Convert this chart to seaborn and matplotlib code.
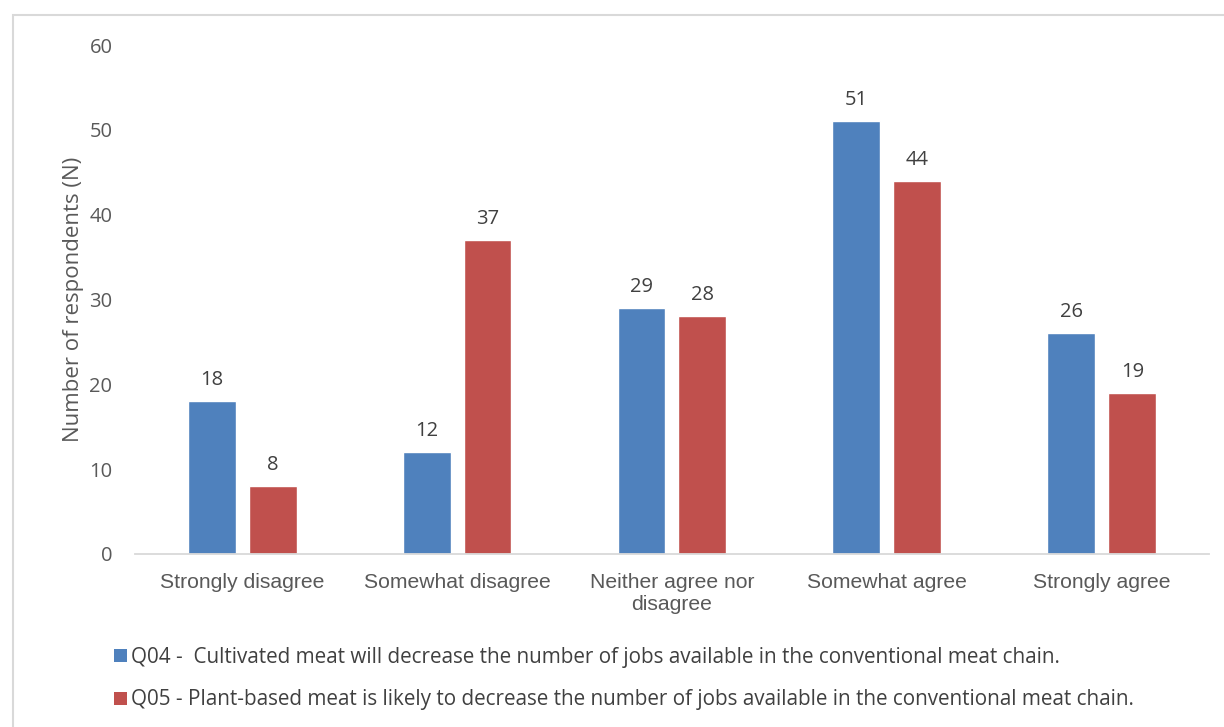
import numpy as np
import pandas as pd
import matplotlib
matplotlib.use("Agg")
import matplotlib.pyplot as plt
from matplotlib.patches import Rectangle, Patch
import seaborn as sns

categories = ["Strongly disagree", "Somewhat disagree", "Neither agree nor\ndisagree",
              "Somewhat agree", "Strongly agree"]
q04_values = [18, 12, 29, 51, 26]
q05_values = [8, 37, 28, 44, 19]
series_names = ["Q04 -  Cultivated meat will decrease the number of jobs available in the conventional meat chain.",
                "Q05 - Plant-based meat is likely to decrease the number of jobs available in the conventional meat chain."]
colors = ["#4F81BD", "#C0504D"]

df = pd.DataFrame({
    "category": categories * 2,
    "value": q04_values + q05_values,
    "series": [series_names[0]] * 5 + [series_names[1]] * 5,
})

sns.set_style("white")
plt.rcParams["font.family"] = ["Open Sans", "DejaVu Sans"]

fig = plt.figure(figsize=(12.24, 7.27), dpi=100)
ax = fig.add_axes([0.110, 0.238, 0.878, 0.700])

sns.barplot(data=df, x="category", y="value", hue="series", palette=colors,
            width=0.567, gap=0.214, ax=ax, legend=False, saturation=1)

for cont in ax.containers:
    ax.bar_label(cont, padding=8, fontsize=14.5, color="#404040")

ax.set_ylim(0, 60)
ax.set_yticks(range(0, 61, 10))
ax.set_xlim(-0.5, 4.5)
ax.set_xlabel("")
ax.set_ylabel("Number of respondents (N)", fontsize=16, color="#595959", labelpad=4)
ax.tick_params(axis="y", length=0, pad=16, labelsize=14.5, labelcolor="#595959")
ax.tick_params(axis="x", length=0, pad=14, labelcolor="#595959")
for lab in ax.get_xticklabels():
    lab.set_fontfamily("Liberation Sans")
    lab.set_fontsize(15.2)
    lab.set_linespacing(1.2)

for s in ["top", "right", "left"]:
    ax.spines[s].set_visible(False)
ax.spines["bottom"].set_color("#D9D9D9")
ax.spines["bottom"].set_linewidth(1.3)

# legend
handles = [Patch(facecolor=c, edgecolor="none") for c in colors]
fig.legend(handles, series_names, loc="upper left", bbox_to_anchor=(0.078, 0.136),
           frameon=False, fontsize=14.9, handlelength=0.6, handleheight=0.6,
           handletextpad=0.2, labelspacing=1.05, labelcolor="#404040")

# outer border
fig.patches.append(Rectangle((13 / 1224, -0.05), 1.1, 0.979 + 0.05, transform=fig.transFigure,
                             fill=False, edgecolor="#D9D9D9", linewidth=1.5, zorder=0))

fig.savefig("out.png", dpi=100)
